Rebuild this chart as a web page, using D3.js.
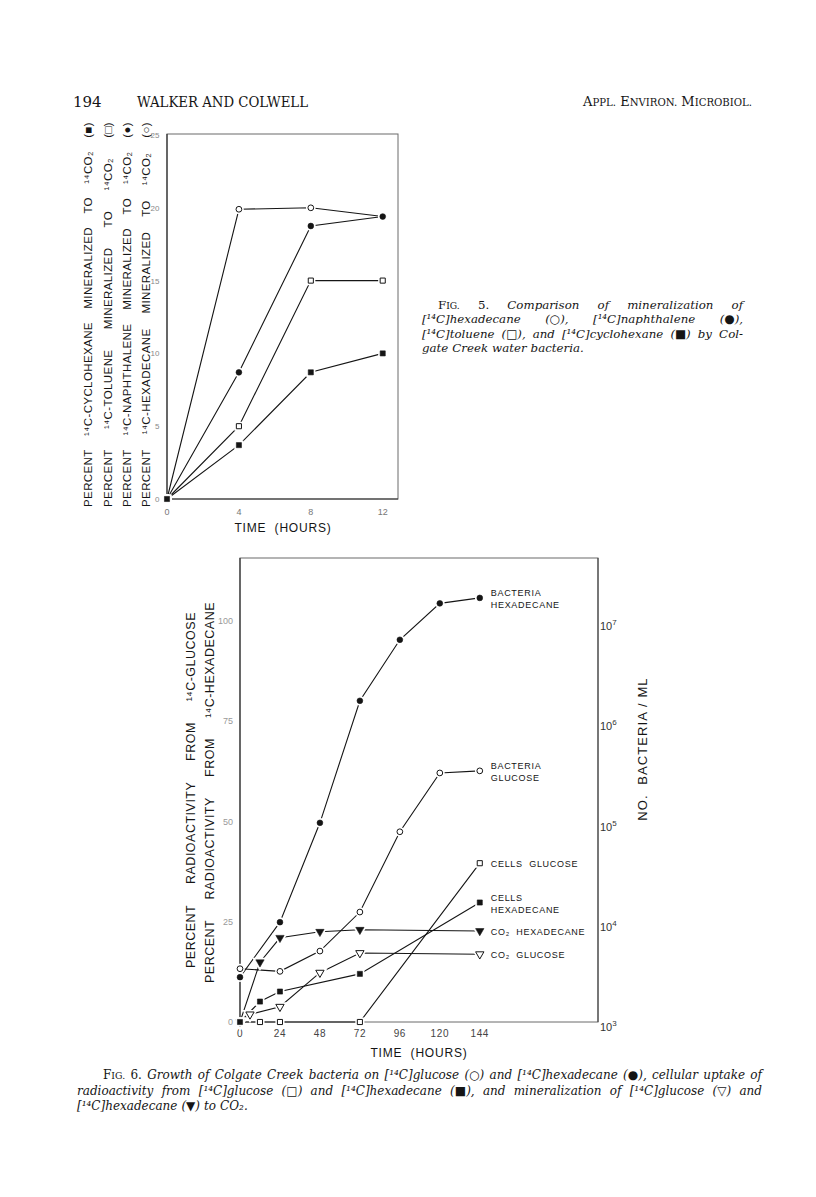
<!DOCTYPE html>
<html>
<head>
<meta charset="utf-8">
<script src="https://cdn.jsdelivr.net/npm/d3@7"></script>
<style>
  body { margin: 0; background: #fff; }
  svg { display: block; }
</style>
</head>
<body>
<svg id="page"></svg>
<script>
// page 194: two figures from Walker & Colwell, redrawn with d3

// ---- data ----
var runningHead = ["194", "WALKER AND COLWELL", "APPL. ENVIRON. MICROBIOL."];

// fig 5 (percent mineralized to CO2)
var fig5Hours = [0, 4, 8, 12];
var fig5Hexadecane = [0, 19.9, 20.0, 19.4];
var fig5Naphthalene = [0, 8.7, 18.75, 19.4];
var fig5Toluene = [0, 5.0, 15.0, 15.0];
var fig5Cyclohexane = [0, 3.7, 8.7, 10.0];
var fig5XTicks = [0, 4, 8, 12];
var fig5YTicks = [0, 5, 10, 15, 20, 25];
var fig5YLabel = [
  "PERCENT ¹⁴C-CYCLOHEXANE MINERALIZED TO ¹⁴CO₂ (■)",
  "PERCENT ¹⁴C-TOLUENE MINERALIZED TO ¹⁴CO₂ (□)",
  "PERCENT ¹⁴C-NAPHTHALENE MINERALIZED TO ¹⁴CO₂ (●)",
  "PERCENT ¹⁴C-HEXADECANE MINERALIZED TO ¹⁴CO₂ (○)"
];
var fig5XLabel = "TIME  (HOURS)";
var fig5Caption = [
  "FIG. 5. Comparison of mineralization of",
  "[¹⁴C]hexadecane (○), [¹⁴C]naphthalene (●),",
  "[¹⁴C]toluene (□), and [¹⁴C]cyclohexane (■) by Col-",
  "gate Creek water bacteria."
];

// fig 6
var bacteriaHexHours = [0, 24, 48, 72, 96, 120, 144];
var bacteriaHexCount = [2.8e3, 9.9e3, 9.7e4, 1.6e6, 6.5e6, 1.5e7, 1.7e7];
var bacteriaGluHours = [0, 24, 48, 72, 96, 120, 144];
var bacteriaGluCount = [3.4e3, 3.2e3, 5.1e3, 1.25e4, 7.9e4, 3.05e5, 3.2e5];
var cellsGluHours = [0, 12, 24, 72, 144];
var cellsGluPct = [0, 0, 0, 0, 39.6];
var cellsHexHours = [0, 12, 24, 72, 144];
var cellsHexPct = [0, 5.1, 7.6, 12.0, 29.8];
var co2HexHours = [0, 12, 24, 48, 72, 144];
var co2HexPct = [0, 14.9, 21.0, 22.5, 23.0, 22.7];
var co2GluHours = [0, 6, 24, 48, 72, 144];
var co2GluPct = [0, 1.9, 3.8, 12.3, 17.2, 16.9];
var fig6XTicks = [0, 24, 48, 72, 96, 120, 144];
var fig6YTicks = [0, 25, 50, 75, 100];
var fig6RightTicks = [1e3, 1e4, 1e5, 1e6, 1e7];
var fig6YLabel = [
  "PERCENT RADIOACTIVITY FROM ¹⁴C-GLUCOSE",
  "PERCENT RADIOACTIVITY FROM ¹⁴C-HEXADECANE"
];
var fig6RightLabel = "NO.  BACTERIA / ML";
var fig6XLabel = "TIME  (HOURS)";
var fig6Caption = [
  "FIG. 6. Growth of Colgate Creek bacteria on [¹⁴C]glucose (○) and [¹⁴C]hexadecane (●), cellular uptake of",
  "radioactivity from [¹⁴C]glucose (□) and [¹⁴C]hexadecane (■), and mineralization of [¹⁴C]glucose (▽) and",
  "[¹⁴C]hexadecane (▼) to CO₂."
];

// ---- page ----
var W = 816, H = 1197;
var sans = "'Liberation Sans', Arial, sans-serif";
var serif = "'DejaVu Serif', 'Liberation Serif', serif";
var ink = "#151515";

var svg = d3.select("#page").attr("width", W).attr("height", H);
svg.append("rect").attr("width", W).attr("height", H).attr("fill", "#fff");

// small caps: first letter of each word full size, the rest smaller
function smallCaps(text, str, size) {
  str.split(/(\s+)/).forEach(function(part) {
    if (/^\s+$/.test(part)) { text.append("tspan").text(part); return; }
    if (!/^[A-Z]/.test(part) || part.length < 2) { text.append("tspan").text(part); return; }
    text.append("tspan").text(part[0]);
    text.append("tspan").attr("font-size", size * 0.78).text(part.slice(1));
  });
}

// lay words along a line of given length (justified) in group g
function spreadWords(g, words, length, styler, justify) {
  var nodes = words.map(function(w) {
    var t = g.append("text").attr("x", 0).attr("y", 0);
    styler(t, w);
    return t;
  });
  var widths = nodes.map(function(n) { return n.node().getComputedTextLength(); });
  var gap = justify && words.length > 1 ? (length - d3.sum(widths)) / (words.length - 1) : 4;
  var pos = 0;
  nodes.forEach(function(n, i) {
    n.attr("x", pos);
    pos += widths[i] + gap;
  });
}

function captionWord(size) {
  return function(t, w) {
    t.attr("font-family", serif).attr("font-size", size).attr("fill", ink);
    if (w === "FIG.") { smallCaps(t, w, size); }
    else if (/^\d\.$/.test(w)) { t.text(w); }
    else { t.attr("font-style", "italic").text(w); }
  };
}

// running head
var head = svg.append("g").attr("fill", ink).attr("font-family", serif);
head.append("text").attr("x", 73).attr("y", 107).attr("font-size", 15).text(runningHead[0]);
head.append("text").attr("x", 137).attr("y", 107).attr("font-size", 15)
  .attr("textLength", 171).attr("lengthAdjust", "spacingAndGlyphs").text(runningHead[1]);
var jt = head.append("text").attr("x", 752).attr("y", 106).attr("font-size", 13).attr("text-anchor", "end");
smallCaps(jt, runningHead[2], 13);

// markers
var shapes = {
  circle: { type: d3.symbolCircle, size: 26, rot: 0 },
  square: { type: d3.symbolSquare, size: 26, rot: 0 },
  tri: { type: d3.symbolTriangle, size: 30, rot: 180 }
};

function drawSeries(lineLayer, markLayer, pts, shape, filled) {
  lineLayer.append("path").datum(pts)
    .attr("d", d3.line())
    .attr("fill", "none").attr("stroke", ink).attr("stroke-width", 1.1);
  var s = shapes[shape];
  var sym = d3.symbol().type(s.type).size(s.size);
  var m = markLayer.selectAll(null).data(pts).enter().append("g")
    .attr("transform", function(d) { return "translate(" + d[0] + "," + d[1] + ") rotate(" + s.rot + ")"; });
  m.append("path").attr("d", sym).attr("fill", "#fff").attr("stroke", "#fff").attr("stroke-width", 4);
  m.append("path").attr("d", sym)
    .attr("fill", filled ? ink : "#fff")
    .attr("stroke", ink).attr("stroke-width", filled ? 0.6 : 1);
}

// ================= FIG 5 =================
var f5 = { left: 167, right: 398, top: 134, bottom: 499 };
var x5 = d3.scaleLinear().domain([0, 12.85]).range([f5.left, f5.right]);
var y5 = d3.scaleLinear().domain([0, 25]).range([f5.bottom, 135]);

var g5 = svg.append("g");
g5.append("rect")
  .attr("x", f5.left).attr("y", f5.top)
  .attr("width", f5.right - f5.left).attr("height", f5.bottom - f5.top)
  .attr("fill", "none").attr("stroke", "#6a6a6a").attr("stroke-width", 1);
g5.append("line").attr("x1", f5.left).attr("x2", f5.right).attr("y1", f5.bottom).attr("y2", f5.bottom)
  .attr("stroke", "#333").attr("stroke-width", 1.2);
g5.append("line").attr("x1", f5.left).attr("x2", f5.left).attr("y1", f5.top).attr("y2", f5.bottom)
  .attr("stroke", "#333").attr("stroke-width", 1.2);

g5.selectAll(".xt").data(fig5XTicks).enter().append("text")
  .attr("x", function(d) { return x5(d); }).attr("y", 515)
  .attr("text-anchor", "middle").attr("font-family", sans).attr("font-size", 9)
  .attr("fill", "#777").text(function(d) { return d; });
g5.selectAll(".yt").data(fig5YTicks).enter().append("text")
  .attr("x", 159.5).attr("y", function(d) { return y5(d) + 3; })
  .attr("text-anchor", "end").attr("font-family", sans).attr("font-size", 8)
  .attr("fill", "#888").text(function(d) { return d; });

g5.append("text").attr("x", 283).attr("y", 532).attr("text-anchor", "middle")
  .attr("font-family", sans).attr("font-size", 12).attr("letter-spacing", 0.8)
  .attr("fill", ink).attr("xml:space", "preserve").text(fig5XLabel);

var lines5 = g5.append("g"), marks5 = g5.append("g");
function pts5(vals) { return fig5Hours.map(function(h, i) { return [x5(h), y5(vals[i])]; }); }
drawSeries(lines5, marks5, pts5(fig5Hexadecane), "circle", false);
drawSeries(lines5, marks5, pts5(fig5Toluene), "square", false);
drawSeries(lines5, marks5, pts5(fig5Naphthalene), "circle", true);
drawSeries(lines5, marks5, pts5(fig5Cyclohexane), "square", true);

// rotated, justified axis title columns
var labelCols5 = [92, 111.5, 131, 150];
fig5YLabel.forEach(function(line, i) {
  var g = g5.append("g").attr("transform", "translate(" + labelCols5[i] + ",507) rotate(-90)");
  spreadWords(g, line.split(" "), 385, function(t, w) {
    t.attr("font-family", sans).attr("font-size", 11.5).attr("fill", ink)
      .attr("letter-spacing", 0.4).text(w);
  }, true);
});

// caption
var cap5 = svg.append("g");
fig5Caption.forEach(function(line, i) {
  var x0 = i === 0 ? 438 : 422;
  var g = cap5.append("g").attr("transform", "translate(" + x0 + "," + (309 + i * 14.3) + ")");
  spreadWords(g, line.split(" "), 743 - x0, captionWord(11.8), i < fig5Caption.length - 1);
});

// ================= FIG 6 =================
var f6 = { left: 240, right: 598, top: 558, bottom: 1022 };
var x6 = d3.scaleLinear().domain([0, 215]).range([f6.left, f6.right]);
var y6 = d3.scaleLinear().domain([0, 100]).range([f6.bottom, 621]);
var yR = d3.scaleLog().domain([1e3, 1e7]).range([f6.bottom, 621]);

var g6 = svg.append("g");
g6.append("rect")
  .attr("x", f6.left).attr("y", f6.top)
  .attr("width", f6.right - f6.left).attr("height", f6.bottom - f6.top)
  .attr("fill", "none").attr("stroke", "#6a6a6a").attr("stroke-width", 1);
g6.append("line").attr("x1", f6.left).attr("x2", f6.left).attr("y1", f6.top).attr("y2", f6.bottom)
  .attr("stroke", "#333").attr("stroke-width", 1.2);
g6.append("line").attr("x1", f6.right).attr("x2", f6.right).attr("y1", f6.top).attr("y2", f6.bottom)
  .attr("stroke", "#444").attr("stroke-width", 1.1);

g6.selectAll(".xt").data(fig6XTicks).enter().append("text")
  .attr("x", function(d) { return x6(d); }).attr("y", 1037)
  .attr("text-anchor", "middle").attr("font-family", sans).attr("font-size", 10)
  .attr("letter-spacing", 0.6).attr("fill", "#444").text(function(d) { return d; });
g6.selectAll(".yt").data(fig6YTicks).enter().append("text")
  .attr("x", 233).attr("y", function(d) { return y6(d) + 3; })
  .attr("text-anchor", "end").attr("font-family", sans).attr("font-size", 9)
  .attr("fill", "#999").text(function(d) { return d; });

var rt = g6.selectAll(".rt").data(fig6RightTicks).enter().append("text")
  .attr("x", 600).attr("y", function(d) { return yR(d) + 9; })
  .attr("font-family", sans).attr("font-size", 11).attr("fill", "#333");
rt.append("tspan").text("10");
rt.append("tspan").attr("dy", -5).attr("font-size", 8)
  .text(function(d) { return Math.round(Math.log10(d)); });

g6.append("text").attr("x", 419).attr("y", 1057).attr("text-anchor", "middle")
  .attr("font-family", sans).attr("font-size", 12).attr("letter-spacing", 0.8)
  .attr("fill", ink).attr("xml:space", "preserve").text(fig6XLabel);

g6.append("text")
  .attr("transform", "translate(647,749) rotate(-90)")
  .attr("text-anchor", "middle").attr("font-family", sans).attr("font-size", 13)
  .attr("letter-spacing", 1.1).attr("fill", ink).attr("xml:space", "preserve")
  .text(fig6RightLabel);

var labelCols6 = [[195, 968, 356], [214, 983, 381]];
fig6YLabel.forEach(function(line, i) {
  var c = labelCols6[i];
  var g = g6.append("g").attr("transform", "translate(" + c[0] + "," + c[1] + ") rotate(-90)");
  spreadWords(g, line.split(" "), c[2], function(t, w) {
    t.attr("font-family", sans).attr("font-size", 12.5).attr("fill", ink)
      .attr("letter-spacing", 0.5).text(w);
  }, true);
});

var lines6 = g6.append("g"), marks6 = g6.append("g"), labs6 = g6.append("g");
function pts6(hours, vals, y) { return hours.map(function(h, i) { return [x6(h), y(vals[i])]; }); }

var series6 = [
  { pts: pts6(bacteriaHexHours, bacteriaHexCount, yR), shape: "circle", filled: true, label: ["BACTERIA", "HEXADECANE"] },
  { pts: pts6(bacteriaGluHours, bacteriaGluCount, yR), shape: "circle", filled: false, label: ["BACTERIA", "GLUCOSE"] },
  { pts: pts6(co2HexHours, co2HexPct, y6), shape: "tri", filled: true, label: ["CO₂  HEXADECANE"] },
  { pts: pts6(co2GluHours, co2GluPct, y6), shape: "tri", filled: false, label: ["CO₂  GLUCOSE"] },
  { pts: pts6(cellsGluHours, cellsGluPct, y6), shape: "square", filled: false, label: ["CELLS  GLUCOSE"] },
  { pts: pts6(cellsHexHours, cellsHexPct, y6), shape: "square", filled: true, label: ["CELLS", "HEXADECANE"] }
];
series6.forEach(function(s) {
  drawSeries(lines6, marks6, s.pts, s.shape, s.filled);
  var last = s.pts[s.pts.length - 1];
  var t = labs6.append("text").attr("font-family", sans).attr("font-size", 9)
    .attr("letter-spacing", 0.7).attr("fill", ink).attr("xml:space", "preserve");
  s.label.forEach(function(l, j) {
    t.append("tspan").attr("x", last[0] + 11)
      .attr("y", last[1] + (s.label.length === 1 ? 4 : -2 + j * 12.5)).text(l);
  });
});

// caption
var cap6 = svg.append("g");
fig6Caption.forEach(function(line, i) {
  var x0 = i === 0 ? 103 : 77;
  var g = cap6.append("g").attr("transform", "translate(" + x0 + "," + (1079 + i * 15.5) + ")");
  spreadWords(g, line.split(" "), 762 - x0, captionWord(12), i < fig6Caption.length - 1);
});
</script>
</body>
</html>
